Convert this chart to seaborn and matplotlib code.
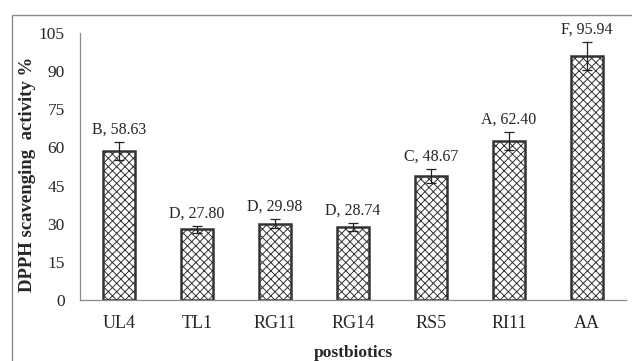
import pandas as pd
import numpy as np
import seaborn as sns
from matplotlib import pyplot as plt
from matplotlib.patches import Rectangle

# data
strains = ['UL4', 'TL1', 'RG11', 'RG14', 'RS5', 'RI11', 'AA']
tick_labels = ['UL4', 'TL1', 'RG11', 'RG14', 'RS5', 'RI11', 'AA']
activity = [58.63, 27.80, 29.98, 28.74, 48.67, 62.40, 95.94]
errors = [3.5, 1.4, 1.7, 1.6, 2.7, 3.5, 5.4]
letters = ['B', 'D', 'D', 'D', 'C', 'A', 'F']

df = pd.DataFrame({'postbiotics': strains, 'activity': activity})

sns.set_style('white')
plt.rcParams['font.family'] = ['Liberation Serif', 'DejaVu Serif']
plt.rcParams['hatch.color'] = '#8f8f8f'
plt.rcParams['hatch.linewidth'] = 0.7

fig = plt.figure(figsize=(6.32, 3.61), dpi=100)
ax = fig.add_axes([0.1266, 0.169, 0.864, 0.7396])

sns.barplot(data=df, x='postbiotics', y='activity', color='white', width=0.42,
            edgecolor='#333333', linewidth=1.8, errorbar=None, ax=ax)
for p in ax.patches:
    p.set_hatch('xxxx')

xs = np.arange(len(strains))
ax.errorbar(xs, activity, yerr=errors, fmt='none', ecolor='#222222',
            elinewidth=0.9, capsize=3.5, capthick=0.9)

for x, v, e, l in zip(xs, activity, errors, letters):
    ax.text(x, v + e + 1.8, f'{l}, {v:.2f}', ha='center', va='bottom', fontsize=11.5)

ax.set_ylim(0, 105)
ax.set_xlim(-0.5, len(strains) - 0.5)
ax.set_yticks(range(0, 106, 15))
ax.set_xticks(xs)
ax.set_xticklabels(tick_labels)
ax.tick_params(axis='both', length=0)
ax.tick_params(axis='x', labelsize=13, pad=11)
ax.tick_params(axis='y', labelsize=12.5, pad=11)
ax.set_xlabel('postbiotics', fontweight='bold', fontsize=12.5, labelpad=9)
ax.set_ylabel('DPPH scavenging  activity %', fontweight='bold', fontsize=13.5)
ax.yaxis.set_label_coords(-0.08, 0.47)

for s in ['top', 'right']:
    ax.spines[s].set_visible(False)
for s in ['left', 'bottom']:
    ax.spines[s].set_color('#8c8c8c')
    ax.spines[s].set_linewidth(0.9)

# outer chart frame
fig.patches.append(Rectangle((12 / 632, -0.05), 1.0, 1 - 15 / 361 + 0.05,
                             transform=fig.transFigure, fill=False,
                             edgecolor='#8c8c8c', linewidth=1.0))

fig.savefig('out.png', dpi=100)
